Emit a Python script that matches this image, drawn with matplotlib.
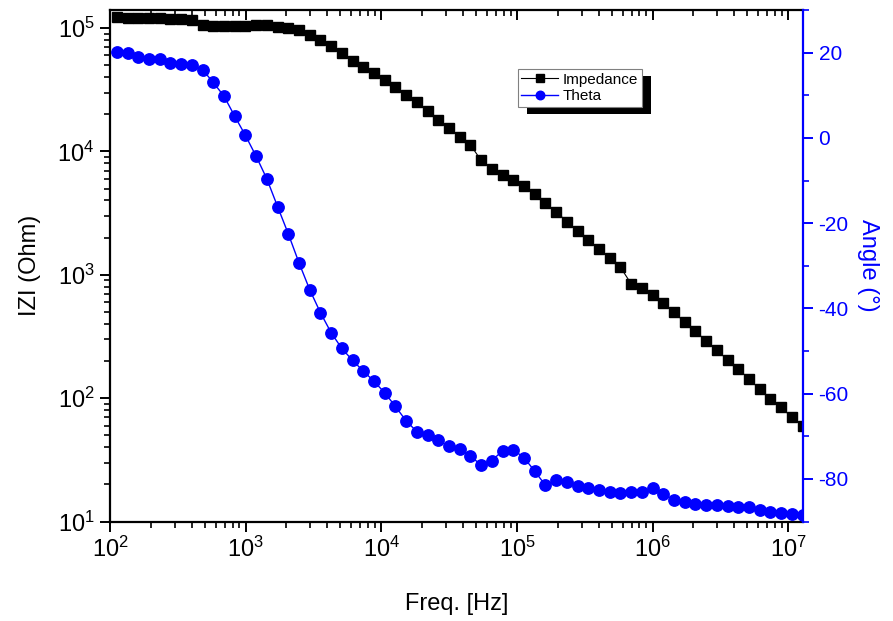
import matplotlib
matplotlib.use("Agg")
import matplotlib.pyplot as plt
from matplotlib.ticker import LogLocator, MultipleLocator, NullFormatter
from matplotlib.patches import Rectangle
from matplotlib.transforms import IdentityTransform

plt.rcParams['font.family'] = 'Liberation Sans'
plt.rcParams['mathtext.fontset'] = 'custom'
plt.rcParams['mathtext.rm'] = 'Liberation Sans'
plt.rcParams['mathtext.default'] = 'regular'
plt.rcParams['axes.unicode_minus'] = False

# sweep frequencies (Hz)
freq = [112, 135, 161, 194, 232, 279, 334, 401, 481, 577, 692, 830,
        995, 1194, 1432, 1718, 2061, 2472, 2965, 3556, 4266, 5117, 6138, 7362, 8831,
        10590, 12710, 15240, 18280, 21930, 26300, 31550, 37840, 45390, 54450, 65310,
        78340, 93970, 112700, 135200, 162200, 194500, 233300, 279900, 335700, 402700,
        483100, 579400, 695000, 833700, 1.0e6, 1.199e6, 1.439e6, 1.726e6, 2.070e6,
        2.483e6, 2.979e6, 3.573e6, 4.285e6, 5.140e6, 6.166e6, 7.396e6, 8.872e6,
        1.064e7, 1.276e7]

# |Z| in Ohm
impedance = [122500, 121100, 121100, 121100, 121100, 119400, 119400, 117200,
             106700, 103500, 103500, 103500, 104700, 105400, 105400, 102800,
             100500, 95500, 88500, 80700, 71100, 62500, 54300, 48400, 43300,
             38200, 33300, 28800, 25000, 21100, 18100, 15500, 13200, 11300,
             8450, 7240, 6470, 5900, 5270, 4520, 3820, 3240, 2700, 2280, 1920,
             1620, 1360, 1150, 845, 774, 684, 589, 497, 412, 347, 292, 245,
             204, 172, 143, 118, 99, 84, 70, 60]

# phase angle in degrees
theta = [20.1, 19.9, 19.0, 18.6, 18.6, 17.6, 17.3, 17.1, 16.0, 13.0, 9.8, 5.1,
         0.6, -4.3, -9.6, -16.1, -22.5, -29.3, -35.6, -41.0, -45.7, -49.4, -52.2,
         -54.7, -57.1, -59.8, -63.0, -66.4, -68.9, -69.6, -70.9, -72.4, -73.0,
         -74.7, -76.7, -75.7, -73.4, -73.2, -75.0, -78.2, -81.5, -80.3, -80.8,
         -81.6, -82.1, -82.6, -83.0, -83.3, -83.0, -83.0, -82.1, -83.5, -84.9,
         -85.4, -85.8, -86.1, -86.2, -86.4, -86.6, -86.7, -87.3, -87.7, -88.1,
         -88.2, -88.4]

fig = plt.figure(figsize=(8.93, 6.21), dpi=100)
ax = fig.add_axes([0.1232, 0.1602, 0.7763, 0.8237])
ax2 = ax.twinx()

l1, = ax.plot(freq, impedance, color='k', lw=0.8, marker='s', ms=7.2,
              mec='k', mfc='k', label='Impedance')
l2, = ax2.plot(freq, theta, color='#0000FF', lw=1.0, marker='o', ms=8.2,
               mec='#0000FF', mfc='#0000FF', label='Theta')

ax.set_xscale('log')
ax.set_yscale('log')
ax.set_xlim(100, 1.29e7)
ax.set_ylim(10, 1.4e5)
ax2.set_ylim(-90, 30)

ax.xaxis.set_major_locator(LogLocator(base=10, numticks=20))
ax.xaxis.set_minor_locator(LogLocator(base=10, subs=range(2, 10), numticks=100))
ax.xaxis.set_minor_formatter(NullFormatter())
ax.yaxis.set_major_locator(LogLocator(base=10, numticks=20))
ax.yaxis.set_minor_locator(LogLocator(base=10, subs=range(2, 10), numticks=100))
ax.yaxis.set_minor_formatter(NullFormatter())

ax.tick_params(which='major', direction='out', length=7, width=1.4, labelsize=17,
               right=False, top=False, pad=4)
ax.tick_params(which='minor', direction='out', length=4, width=1.2,
               right=False, top=False)

# top axis: ticks pointing inward, no labels
top = ax.secondary_xaxis('top')
top.tick_params(which='major', direction='in', length=7, width=1.4, labeltop=False)
top.tick_params(which='minor', direction='in', length=4, width=1.2)
top.xaxis.set_major_locator(LogLocator(base=10, numticks=20))
top.xaxis.set_minor_locator(LogLocator(base=10, subs=range(2, 10), numticks=100))
top.xaxis.set_minor_formatter(NullFormatter())
top.spines['top'].set_visible(False)

for s in ['left', 'bottom', 'top']:
    ax.spines[s].set_linewidth(1.6)
ax.spines['right'].set_visible(False)
for s in ['left', 'bottom', 'top']:
    ax2.spines[s].set_visible(False)
ax2.spines['right'].set_color('#0000FF')
ax2.spines['right'].set_linewidth(1.6)

ax2.yaxis.set_major_locator(MultipleLocator(20))
ax2.yaxis.set_minor_locator(MultipleLocator(10))
ax2.tick_params(which='major', direction='out', length=7, width=1.4, colors='#0000FF',
                labelsize=15, pad=4)
ax2.tick_params(which='minor', direction='out', length=4, width=1.2, colors='#0000FF')

ax.set_xlabel('Freq. [Hz]', fontsize=17, labelpad=22)
ax.set_ylabel('IZI (Ohm)', fontsize=17, labelpad=12)
ax2.set_ylabel('Angle (°)', fontsize=17, color='#0000FF', rotation=-90, labelpad=22)

leg = ax2.legend([l1, l2], ['Impedance', 'Theta'], loc='upper left',
                 bbox_to_anchor=(0.588, 0.885), borderaxespad=0, fontsize=11,
                 frameon=True, fancybox=False, edgecolor='#808080', framealpha=1,
                 handlelength=2.4, handletextpad=0.3, markerscale=0.75,
                 borderpad=0.25, labelspacing=0.15)
leg.get_frame().set_linewidth(0.8)

# drop shadow behind the legend box
fig.canvas.draw()
bb = leg.get_window_extent()
shadow = Rectangle((bb.x0 + 9, bb.y0 - 7), bb.width, bb.height, transform=IdentityTransform(),
                   facecolor='k', edgecolor='none', zorder=4.9, clip_on=False)
ax2.add_artist(shadow)

fig.savefig('out.png', dpi=100)
